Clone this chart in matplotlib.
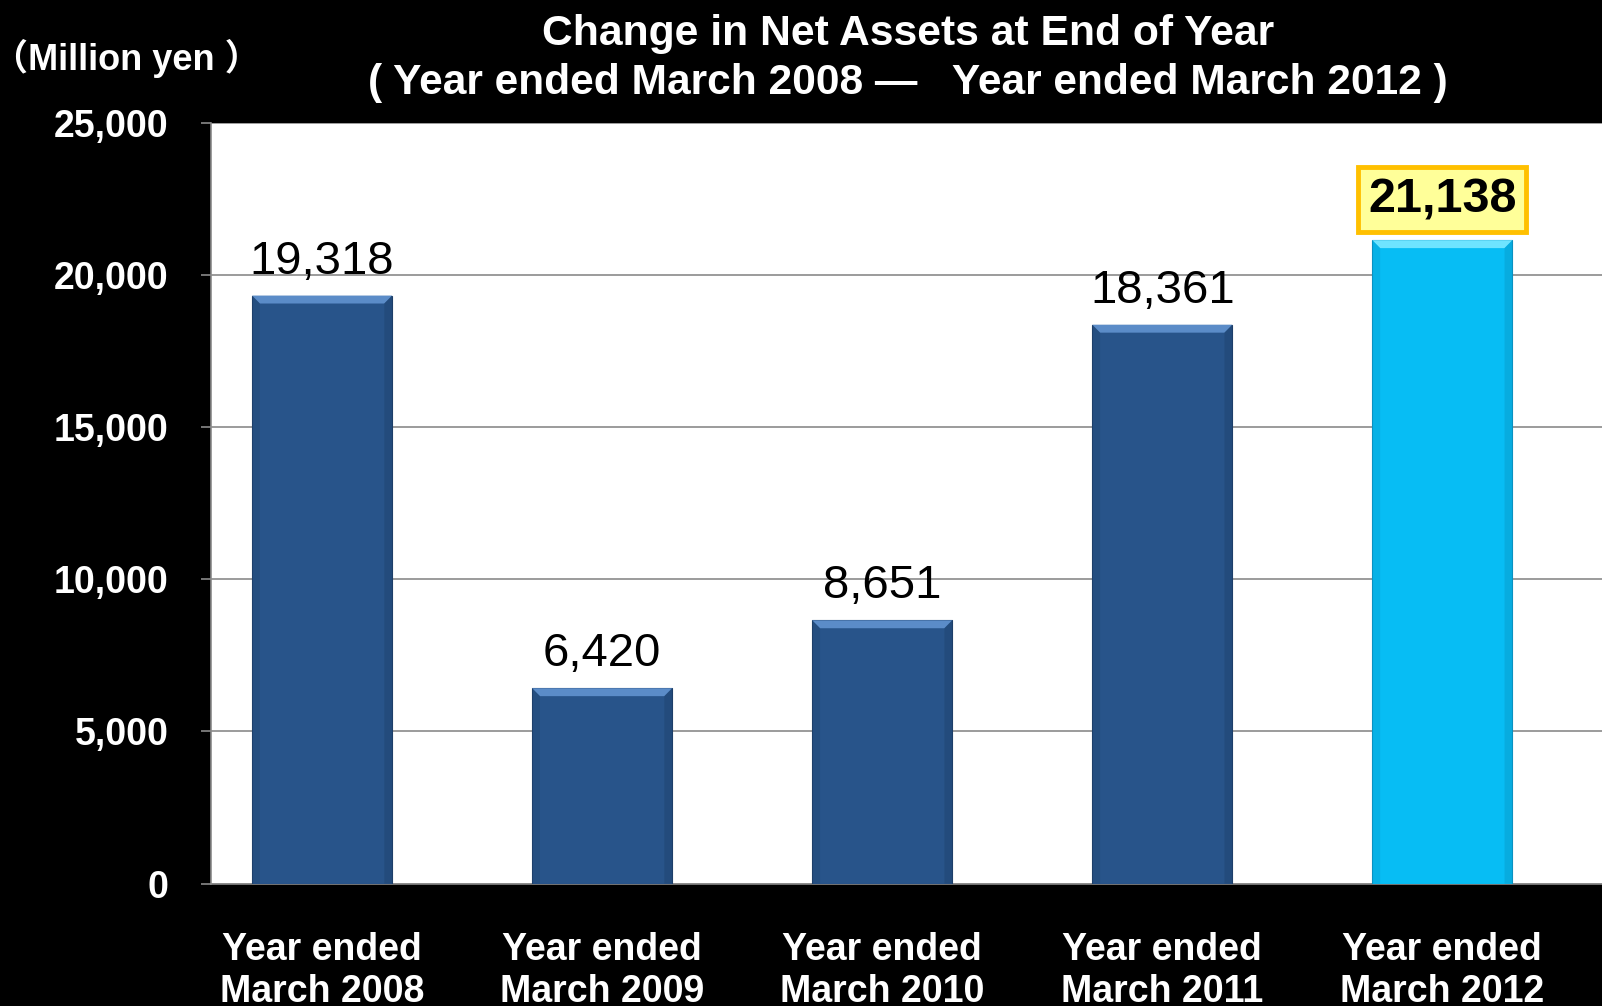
import numpy as np
import matplotlib.pyplot as plt
from matplotlib.patches import Polygon

# --- Data ---
years = ["Year ended\nMarch 2008", "Year ended\nMarch 2009", "Year ended\nMarch 2010",
         "Year ended\nMarch 2011", "Year ended\nMarch 2012"]
net_assets = [19318, 6420, 8651, 18361, 21138]
y_ticks = [0, 5000, 10000, 15000, 20000, 25000]

BAR_DARK = "#28548A"
BAR_LIGHT = "#07BDF4"
GRID = "#8a8a8a"

fig = plt.figure(figsize=(16.02, 10.06), dpi=100, facecolor="black")
ax = fig.add_axes([0.132, 0.1216, 0.868, 0.7565])
ax.set_facecolor("white")

x = np.arange(len(years))
colors = [BAR_DARK] * (len(years) - 1) + [BAR_LIGHT]
bars = ax.bar(x, net_assets, width=0.5, color=colors, zorder=3,
              edgecolor="#1d3e68", linewidth=0.8)
bars[-1].set_edgecolor("#0a8fbf")

# bevel on the top of each bar
bev_x = 0.028
bev_y = 260
for b, c in zip(bars, colors):
    x0, w, h = b.get_x(), b.get_width(), b.get_height()
    top = "#5b8cc8" if c == BAR_DARK else "#6fe4ff"
    side = "#1f446f" if c == BAR_DARK else "#079ccc"
    ax.add_patch(Polygon([[x0, h], [x0 + w, h], [x0 + w - bev_x, h - bev_y],
                          [x0 + bev_x, h - bev_y]], closed=True,
                         facecolor=top, edgecolor="none", zorder=4))
    ax.add_patch(Polygon([[x0, h], [x0 + bev_x, h - bev_y], [x0 + bev_x, 0], [x0, 0]],
                         closed=True, facecolor=side, edgecolor="none", alpha=0.35, zorder=4))
    ax.add_patch(Polygon([[x0 + w, h], [x0 + w - bev_x, h - bev_y], [x0 + w - bev_x, 0],
                          [x0 + w, 0]], closed=True, facecolor=side, edgecolor="none",
                         alpha=0.5, zorder=4))

ax.set_xlim(-0.395, 4.57)
ax.set_ylim(0, 25000)
ax.set_yticks(y_ticks)
ax.set_yticklabels([f"{v:,}" for v in y_ticks])
ax.set_xticks(x)
ax.set_xticklabels(years, linespacing=1.2)

ax.yaxis.grid(True, color=GRID, linewidth=1.2, zorder=0)
for s in ["top", "right"]:
    ax.spines[s].set_visible(False)
for s in ["left", "bottom"]:
    ax.spines[s].set_color(GRID)
    ax.spines[s].set_linewidth(1.2)

ax.tick_params(axis="y", colors=GRID, length=7, width=1.2, pad=24)
ax.tick_params(axis="x", length=0, pad=35)
for lbl in ax.get_yticklabels():
    lbl.set_color("white")
    lbl.set_fontsize(27)
    lbl.set_fontweight("bold")
    lbl.set_family("Liberation Sans")
for lbl in ax.get_xticklabels():
    lbl.set_color("white")
    lbl.set_fontsize(27)
    lbl.set_fontweight("bold")
    lbl.set_family("Liberation Sans")

# value labels
for i, v in enumerate(net_assets):
    if i == len(net_assets) - 1:
        ax.annotate(f"{v:,}", xy=(i, v), xytext=(0, 28), textcoords="offset pixels",
                    ha="center", va="baseline", fontsize=35, fontweight="bold",
                    family="Liberation Sans", color="black", zorder=5,
                    bbox=dict(boxstyle="square,pad=0.2", facecolor="#FFFF99",
                              edgecolor="#FFC000", linewidth=3.5))
    else:
        ax.annotate(f"{v:,}", xy=(i, v), xytext=(0, 22), textcoords="offset pixels",
                    ha="center", va="baseline", fontsize=34,
                    family="Liberation Sans", color="black", zorder=5)

# titles
fig.text(0.567, 1 - 34 / 1006, "Change in Net Assets at End of Year", ha="center",
         va="center", color="white", fontsize=30.7, fontweight="bold",
         family="Liberation Sans")
fig.text(0.567, 1 - 83 / 1006, "( Year ended March 2008 \u2014   Year ended March 2012 )",
         ha="center", va="center", color="white", fontsize=30.6, fontweight="bold",
         family="Liberation Sans")
fig.text(-8 / 1602, 1 - 58 / 1006, "\uff08Million yen \uff09", ha="left", va="center",
         color="white", fontsize=26, fontweight="bold",
         family=["Liberation Sans", "Noto Sans CJK JP"])

fig.savefig("out.png", dpi=100, facecolor="black")
